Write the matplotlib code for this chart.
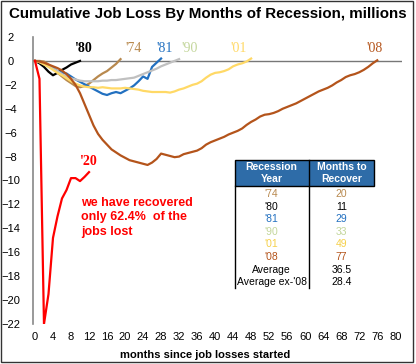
import matplotlib
matplotlib.use("Agg")
import matplotlib.pyplot as plt
from matplotlib.patches import Rectangle

plt.rcParams['font.family'] = ['Liberation Sans', 'DejaVu Sans']

# cumulative job loss (millions) by month since job losses started
loss_74 = [0, 0, -0.05, -0.3, -0.65, -1.0, -1.3, -1.6, -1.85, -2.1, -2.2, -2.1,
           -1.9, -1.6, -1.3, -1.05, -0.85, -0.55, -0.25, 0.15]
loss_80 = [0, -0.2, -0.5, -0.9, -1.2, -1.0, -0.75, -0.55, -0.3, -0.15, 0.0]
loss_81 = [0, -0.05, -0.2, -0.4, -0.6, -0.85, -1.0, -1.05, -1.3, -1.55, -1.75,
           -1.95, -2.15, -2.35, -2.55, -2.75, -2.85, -2.7, -2.6, -2.7, -2.5,
           -2.3, -2.05, -1.7, -1.3, -1.5, -0.5, -0.15, 0.2]
loss_90 = [0, -0.1, -0.25, -0.45, -0.65, -0.85, -1.1, -1.3, -1.45, -1.55, -1.65,
           -1.7, -1.7, -1.7, -1.7, -1.65, -1.65, -1.6, -1.6, -1.55, -1.5, -1.45,
           -1.4, -1.25, -1.1, -0.95, -0.8, -0.65, -0.45, -0.3, -0.15, 0.0, 0.15]
loss_01 = [0, -0.1, -0.3, -0.5, -0.75, -1.0, -1.2, -1.45, -1.7, -1.9, -2.05,
           -2.15, -2.2, -2.2, -2.25, -2.2, -2.25, -2.3, -2.3, -2.3, -2.25, -2.3,
           -2.35, -2.4, -2.5, -2.55, -2.6, -2.6, -2.6, -2.6, -2.65, -2.55, -2.4,
           -2.3, -2.15, -2.0, -1.9, -1.7, -1.4, -1.15, -1.0, -0.95, -0.85, -0.7,
           -0.45, -0.3, -0.2, -0.05, 0.2]
loss_08 = [0, -0.05, -0.15, -0.3, -0.45, -0.6, -0.8, -1.1, -1.5, -2.0, -2.7,
           -3.6, -4.5, -5.4, -6.1, -6.6, -7.0, -7.4, -7.65, -7.9, -8.1, -8.3,
           -8.4, -8.5, -8.6, -8.7, -8.5, -8.2, -7.75, -7.85, -7.95, -8.05, -8.0,
           -7.8, -7.7, -7.6, -7.5, -7.3, -7.0, -6.8, -6.65, -6.5, -6.35, -6.15,
           -6.0, -5.85, -5.65, -5.35, -5.1, -4.9, -4.65, -4.5, -4.45, -4.35, -4.2,
           -4.0, -3.85, -3.7, -3.55, -3.35, -3.15, -2.95, -2.75, -2.55, -2.4,
           -2.25, -2.05, -1.8, -1.6, -1.35, -1.2, -1.1, -0.95, -0.75, -0.5, -0.2,
           0.05]
loss_20 = [0, -1.5, -22.0, -19.5, -14.8, -13.0, -11.5, -10.8, -9.8, -9.8,
           -10.05, -9.7, -9.3]

series = [("'74", loss_74, '#B8894E', '#B8894E'),
          ("'80", loss_80, 'black', 'black'),
          ("'81", loss_81, '#2270C0', '#2270C0'),
          ("'90", loss_90, '#C0C0C0', '#C3D69B'),
          ("'01", loss_01, '#FFD966', '#FFD966'),
          ("'08", loss_08, '#B4541B', '#B4541B'),
          ("'20", loss_20, '#FF0000', '#FF0000')]

# recovery table
rec_years = ["'74", "'80", "'81", "'90", "'01", "'08", "Average", "Average ex-'08"]
rec_months = ["20", "11", "29", "33", "49", "77", "36.5", "28.4"]
rec_colors = ['#B8894E', 'black', '#2270C0', '#C3D69B', '#F5D04A', '#B4541B',
              'black', 'black']

W, H = 416, 364
fig = plt.figure(figsize=(W / 100, H / 100), dpi=100)
ax = fig.add_axes([32.5 / W, 1 - 324 / H, (402 - 32.5) / W, (324 - 37) / H])

for name, vals, col, lcol in series:
    ax.plot(range(len(vals)), vals, color=col, lw=1.6, solid_joinstyle='round',
            zorder=3)

ax.axhline(0, color='#777777', lw=1, zorder=2)
ax.set_xlim(-0.55, 81.5)
ax.set_ylim(-22, 2)
ax.set_xticks(range(0, 81, 4))
ax.set_yticks(range(-22, 3, 2))
ax.tick_params(length=0, labelsize=8)
ax.tick_params(axis='y', pad=15.5)
for t in ax.get_yticklabels():
    t.set_ha('center')
ax.tick_params(axis='x', pad=6)
for s in ['top', 'right', 'bottom']:
    ax.spines[s].set_visible(False)
ax.spines['left'].set_color('#888888')
ax.spines['left'].set_linewidth(1.2)

# series labels
lab_pos = {"'80": (10.9, 1.0), "'74": (21.9, 1.0), "'81": (28.7, 1.0),
           "'90": (34.4, 1.0), "'01": (45.3, 1.0), "'08": (75.5, 1.0),
           "'20": (11.9, -8.4)}
for name, vals, col, lcol in series:
    x, y = lab_pos[name]
    ax.text(x, y, name, color=lcol, fontsize=10, family='Liberation Serif',
            fontweight='bold' if name in ("'80", "'20") else 'normal',
            ha='center', va='center')

ax.text(10.3, -11.4, "we have recovered\nonly 62.4%  of the\njobs lost",
        color='#FF0000', fontsize=9, fontweight='bold', ha='left', va='top',
        linespacing=1.25)

# overlay in pixel coordinates for title, frame and table
ov = fig.add_axes([0, 0, 1, 1], facecolor='none')
ov.set_xlim(0, W)
ov.set_ylim(H, 0)
ov.axis('off')
ov.add_patch(Rectangle((0.5, 0.5), 412, 361, fill=False, ec='#333333', lw=1))
ov.text(208, 14, "Cumulative Job Loss By Months of Recession, millions",
        fontsize=10.9, fontweight='bold', ha='center', va='center')
ov.text(205, 355, "months since job losses started", fontsize=8,
        fontweight='bold', ha='center', va='center')

tx0, tx1, txm = 234.5, 374, 308.7
ty0, ty1 = 160, 186
ov.add_patch(Rectangle((tx0, ty0), tx1 - tx0, ty1 - ty0, fc='#2E6CA8',
                       ec='black', lw=1, zorder=2))
ov.plot([txm, txm], [ty0, 288], color='black', lw=1, zorder=3)
ov.plot([tx0, tx0], [ty1, 288], color='black', lw=1, zorder=3)
ov.text((tx0 + txm) / 2, 173, "Recession\nYear", color='white', fontsize=7.5,
        fontweight='bold', ha='center', va='center', linespacing=1.2)
ov.text((txm + tx1) / 2, 173, "Months to\nRecover", color='white', fontsize=7.5,
        fontweight='bold', ha='center', va='center', linespacing=1.2)
for i, (yr, mo, c) in enumerate(zip(rec_years, rec_months, rec_colors)):
    yy = 194 + i * 12.6
    ov.text((tx0 + txm) / 2, yy, yr, color=c, fontsize=7.5, ha='center',
            va='center')
    ov.text((txm + tx1) / 2, yy, mo, color=c, fontsize=7.5, ha='center',
            va='center')

fig.savefig("out.png", dpi=100)
